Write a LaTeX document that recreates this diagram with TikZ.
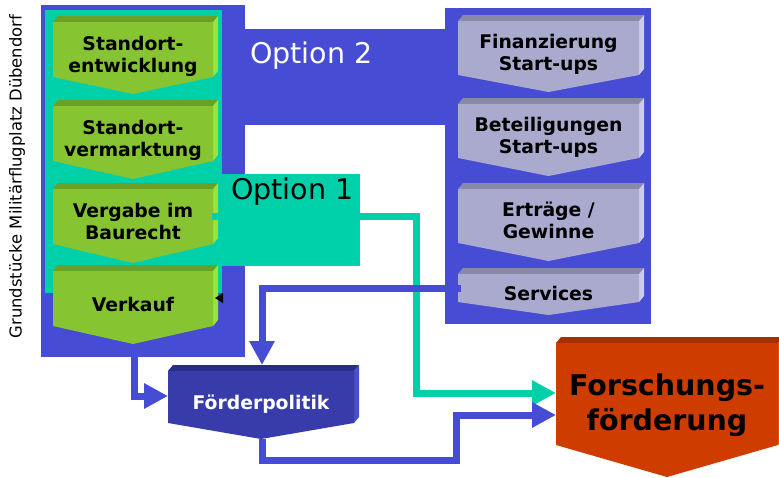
\documentclass[tikz,border=0pt]{standalone}
\usepackage{fontspec}
\setmainfont{DejaVu Sans}
\usetikzlibrary{arrows.meta}
\definecolor{bblue}{RGB}{70,76,212}
\definecolor{tealc}{RGB}{0,208,170}
\definecolor{gfront}{RGB}{134,196,50}
\definecolor{gtop}{RGB}{106,160,38}
\definecolor{gright}{RGB}{150,228,60}
\definecolor{pfront}{RGB}{170,170,206}
\definecolor{ptop}{RGB}{136,136,168}
\definecolor{pright}{RGB}{204,204,234}
\definecolor{dfront}{RGB}{56,60,170}
\definecolor{dtop}{RGB}{40,44,140}
\definecolor{dright}{RGB}{72,78,204}
\definecolor{ofront}{RGB}{206,60,0}
\definecolor{otop}{RGB}{168,46,0}
\definecolor{oright}{RGB}{230,80,20}
\newcommand{\chevbox}[9]{%
  \fill[#7top] (#2,#3+6) -- ++(5,-6) -- ++(#4,0) -- ++(-5,6) -- cycle;
  \fill[#7right] (#2+#4,#3+6) -- ++(5,-6) -- ++(0,#5) -- ++(-5,6) -- cycle;
  \fill[#7front] (#2,#3+6) -- ++(#4,0) -- ++(0,#5) -- (#2+#4/2,#3+6+#5+#6) -- (#2,#3+6+#5) -- cycle;
  \node[#7text] (#1) at (#2+#4/2,#8) {#9};
}
\begin{document}
\begin{tikzpicture}[x=1pt,y=-1pt,
  gtext/.style={font=\bfseries\fontsize{18.8}{22}\selectfont, align=center, inner sep=0pt, text=black},
  ptext/.style={font=\bfseries\fontsize{18.8}{22}\selectfont, align=center, inner sep=0pt, text=black},
  dtext/.style={font=\bfseries\fontsize{18.8}{22}\selectfont, align=center, inner sep=0pt, text=white},
  otext/.style={font=\bfseries\fontsize{28.5}{35}\selectfont, align=center, inner sep=0pt, text=black},
  optlabel/.style={font=\fontsize{28.5}{34}\selectfont, inner sep=0pt, anchor=base west},
  conn/.style={line width=7pt, -{Triangle[length=24pt,width=24pt]}},
  plain/.style={line width=7pt}]
\useasboundingbox (0,0) rectangle (779,477);
\fill[white] (0,0) rectangle (779,477);
% backgrounds
\fill[bblue] (41,5) rectangle (245,357);
\fill[bblue] (245,29) rectangle (445,125);
\fill[bblue] (445,8) rectangle (651,324);
\fill[tealc] (45,10) rectangle (222,293);
\fill[tealc] (222,174) rectangle (360,266);
% labels
\node[optlabel, text=white] (opt2) at (250,63) {Option 2};
\node[optlabel, text=black] (opt1) at (231,199) {Option 1};
\node[rotate=90, font=\fontsize{16.4}{20}\selectfont, inner sep=0pt] (vlabel) at (17,176.5) {Grundstücke Militärflugplatz Dübendorf};
% green boxes
\chevbox{sent}{53}{16}{160}{55}{17}{g}{57}{\strut Standort-\\\strut entwicklung}
\chevbox{sver}{53}{100}{160}{55}{18}{g}{141}{\strut Standort-\\\strut vermarktung}
\chevbox{verg}{53}{183}{160}{55}{19}{g}{224}{\strut Vergabe im\\\strut Baurecht}
\chevbox{verk}{53}{265}{160}{55}{18}{g}{306.6}{\strut Verkauf}
% grey boxes
\chevbox{fin}{458}{15}{181}{54}{17}{p}{54.6}{\strut Finanzierung\\\strut Start-ups}
\chevbox{bet}{458}{98}{181}{54}{18}{p}{137.6}{\strut Beteiligungen\\\strut Start-ups}
\chevbox{ertr}{458}{183}{181}{54}{18}{p}{222.6}{\strut Erträge /\\\strut Gewinne}
\chevbox{serv}{458}{268}{181}{28}{13}{p}{295.6}{\strut Services}
% Foerderpolitik
\chevbox{foer}{168}{365}{186}{52}{16}{d}{404.6}{\strut Förderpolitik}
% Forschungsfoerderung
\chevbox{fors}{556}{337}{222}{102}{32}{o}{405.5}{\strut Forschungs-\\\strut förderung}
% small black tip
\fill[black] (215,298) -- (223,293) -- (223,303) -- cycle;
% connector end points
\coordinate (vergOut) at (212,216);
\coordinate (forsIn1) at (556,393);
\coordinate (forsIn2) at (556,415);
\coordinate (servOut) at (461,288.5);
\coordinate (foerIn1) at (262,365);
\coordinate (leftOut) at (134,357);
\coordinate (foerIn2) at (168,396);
\coordinate (foerOut) at (262,439);
% connectors
\draw[conn, tealc] (vergOut) -- (416.5,216) |- (forsIn1);
\draw[conn, bblue] (servOut) -| (foerIn1);
\draw[conn, bblue] (leftOut) |- (foerIn2);
\draw[conn, bblue] (foerOut) -- (262,460) -| (456,415) -- (forsIn2);
\end{tikzpicture}
\end{document}
